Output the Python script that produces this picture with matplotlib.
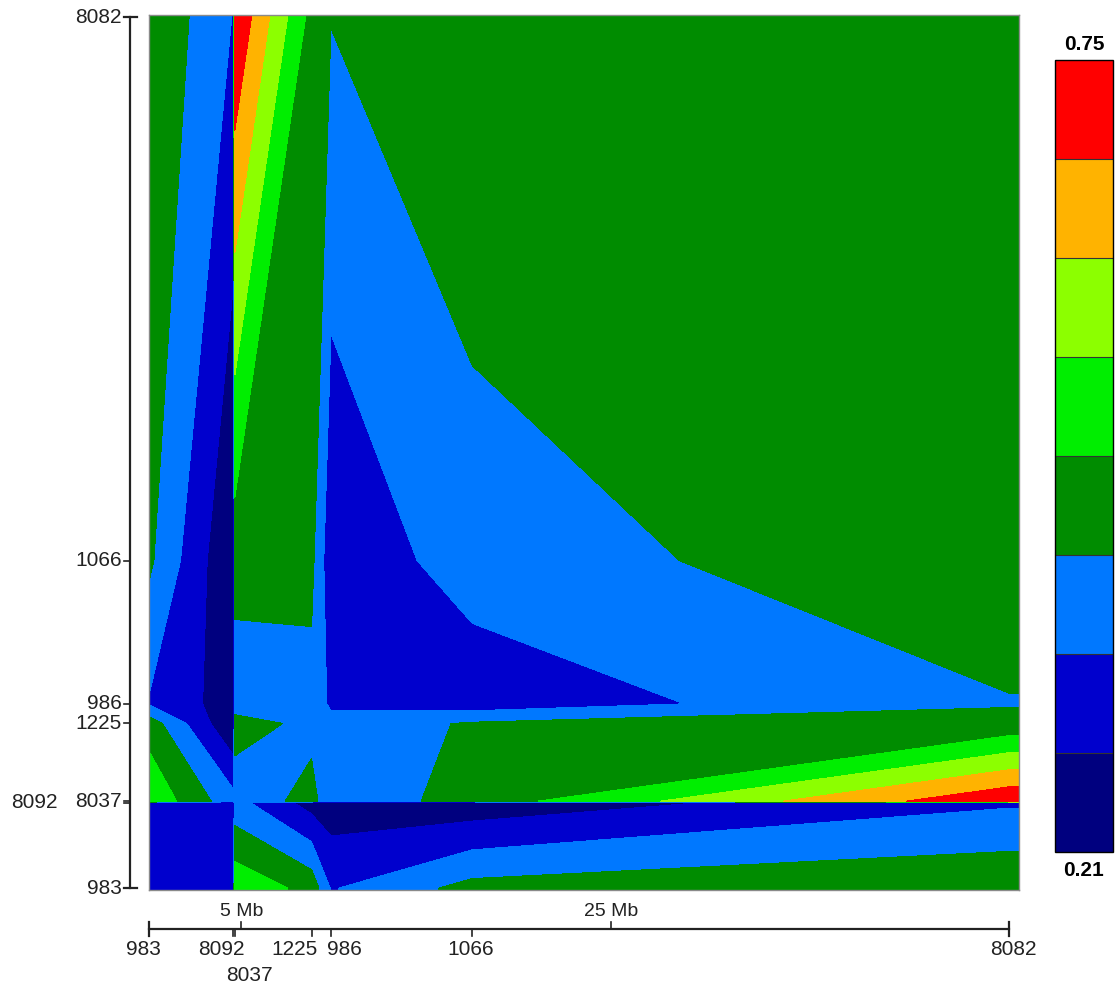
import numpy as np
import matplotlib
matplotlib.use("Agg")
import matplotlib.pyplot as plt
import matplotlib.transforms as mtransforms
from matplotlib.lines import Line2D

plt.rcParams['font.family'] = ['Liberation Sans', 'DejaVu Sans']

# markers in map order and their position along the chromosome (Mb)
markers = ['983', '8092', '8037', '1225', '986', '1066', '8082']
positions = [0.0, 4.55, 4.65, 8.8, 9.85, 17.5, 46.55]

# pairwise values, one list per y marker (bottom -> top), columns follow x markers
row_983 = [0.31, 0.31, 0.53, 0.457, 0.34, 0.435, 0.47]
row_8092 = [0.31, 0.31, 0.37, 0.251, 0.238, 0.235, 0.337]
row_8037 = [0.534, 0.37, 0.36, 0.44, 0.357, 0.444, 0.739]
row_1225 = [0.45, 0.215, 0.45, 0.39, 0.37, 0.42, 0.432]
row_986 = [0.34, 0.242, 0.366, 0.392, 0.332, 0.304, 0.408]
row_1066 = [0.425, 0.212, 0.445, 0.43, 0.295, 0.377, 0.469]
row_8082 = [0.476, 0.343, 0.745, 0.458, 0.415, 0.476, 0.46]

vmin, vmax, n_bands = 0.21, 0.75, 8
band_colors = ['#00007F', '#0000CD', '#0078FF', '#008C00',
               '#00EE00', '#8CFF00', '#FFB300', '#FF0000']
scale_marks = [5, 25]

W, H = 1116, 988


def fx(px):
    return px / W


def fy(py):
    return 1 - py / H


fig = plt.figure(figsize=(W / 100, H / 100), dpi=100)
ax = fig.add_axes([fx(149), fy(890), fx(1019) - fx(149), fy(15) - fy(890)])

z = np.array([row_983, row_8092, row_8037, row_1225, row_986, row_1066, row_8082])
# pad one node on every side so the filled area reaches the frame
grid = np.concatenate([[-1.0], positions, [49.0]])
zp = np.pad(z, 1, mode='edge')
levels = np.linspace(vmin, vmax, n_bands + 1)
cs = ax.contourf(grid, grid, zp, levels=levels, colors=band_colors)

ax.set_xlim(0, 47.09)
ax.set_ylim(-0.1, 46.66)
ax.set_xticks([])
ax.set_yticks([])
for s in ax.spines.values():
    s.set_color('#8a8a8a')
    s.set_linewidth(1.0)

ink = '#222222'
fs = 15

# bottom ruler
bt = mtransforms.blended_transform_factory(ax.transData, fig.transFigure)
fig.add_artist(Line2D([positions[0], positions[-1]], [fy(929)] * 2, transform=bt,
                      color=ink, lw=1.6))
for p in positions:
    fig.add_artist(Line2D([p, p], [fy(929), fy(936)], transform=bt, color=ink, lw=1.2))
for p in (positions[0], positions[-1]):
    fig.add_artist(Line2D([p, p], [fy(922), fy(936)], transform=bt, color=ink, lw=1.6))
for m in scale_marks:
    fig.add_artist(Line2D([m, m], [fy(922), fy(929)], transform=bt, color=ink, lw=1.2))
    fig.text(m, fy(911), f'{m} Mb', transform=bt, ha='center', va='center',
             fontsize=fs - 1, color=ink)

x_label_dx = [-6, -12, 15, -17, 13, -2, 4]
x_label_y = [949, 949, 975, 949, 949, 949, 949]
for name, p, dx, py in zip(markers, positions, x_label_dx, x_label_y):
    tr = mtransforms.offset_copy(bt, fig=fig, x=dx, y=0, units='dots')
    fig.text(p, fy(py), name, transform=tr, ha='center', va='center',
             fontsize=fs, color=ink)

# left ruler
lt = mtransforms.blended_transform_factory(fig.transFigure, ax.transData)
fig.add_artist(Line2D([fx(130)] * 2, [positions[0], positions[-1]], transform=lt,
                      color=ink, lw=1.6))
for p in positions:
    fig.add_artist(Line2D([fx(124), fx(130)], [p, p], transform=lt, color=ink, lw=1.2))
for p in (positions[0], positions[-1]):
    fig.add_artist(Line2D([fx(124), fx(137)], [p, p], transform=lt, color=ink, lw=1.6))

y_label_x = [122, 58, 122, 122, 122, 122, 122]
for name, p, px in zip(markers, positions, y_label_x):
    fig.text(fx(px), p, name, transform=lt, ha='right', va='center',
             fontsize=fs, color=ink)

# colour key
cax = fig.add_axes([fx(1055), fy(852), fx(1113) - fx(1055), fy(60) - fy(852)])
cb = fig.colorbar(cs, cax=cax, drawedges=True)
cb.set_ticks([])
cb.outline.set_edgecolor('black')
cb.outline.set_linewidth(1.0)
cb.dividers.set_color('#333333')
cb.dividers.set_linewidth(0.8)
fig.text(fx(1084), fy(45), f'{vmax:.2f}', ha='center', va='center',
         fontsize=fs, fontweight='bold', color='black')
fig.text(fx(1084), fy(870), f'{vmin:.2f}', ha='center', va='center',
         fontsize=fs, fontweight='bold', color='black')

fig.savefig('out.png', dpi=100)
